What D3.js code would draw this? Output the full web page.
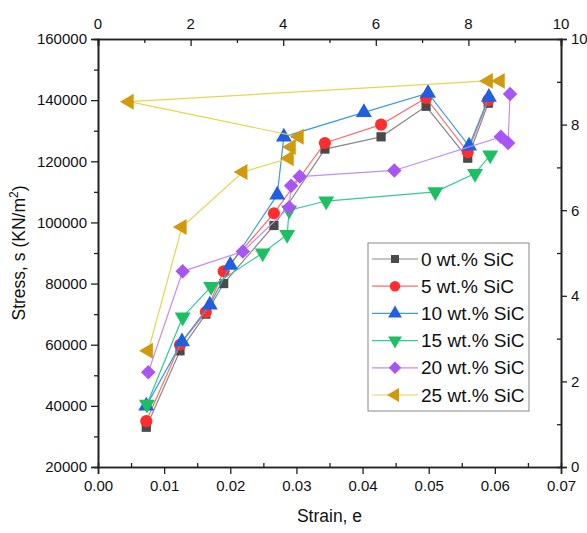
<!DOCTYPE html>
<html>
<head>
<meta charset="utf-8">
<script src="https://cdn.jsdelivr.net/npm/d3@7"></script>
<style>
  html, body { margin: 0; padding: 0; background: #fff; }
  svg { display: block; font-family: "Liberation Sans", Arial, sans-serif; }
</style>
</head>
<body>
<svg id="chart" width="587" height="533"></svg>
<script>
// ---- Data ----
const seriesNames = ["0 wt.% SiC", "5 wt.% SiC", "10 wt.% SiC", "15 wt.% SiC", "20 wt.% SiC", "25 wt.% SiC"];

const strain0  = [0.0073, 0.0124, 0.0163, 0.0190, 0.0266, 0.0343, 0.0428, 0.0496, 0.0559, 0.0590];
const stress0  = [33000, 58000, 70000, 80000, 99000, 124000, 128000, 138000, 121000, 139000];

const strain5  = [0.0073, 0.0124, 0.0163, 0.0190, 0.0266, 0.0343, 0.0428, 0.0496, 0.0559, 0.0590];
const stress5  = [35000, 60000, 70700, 84000, 103000, 126000, 132000, 140700, 123000, 140000];

const strain10 = [0.0073, 0.0127, 0.0169, 0.0200, 0.0271, 0.0281, 0.0402, 0.0499, 0.0561, 0.0591];
const stress10 = [40000, 61000, 73000, 86000, 109000, 128000, 136000, 142300, 125000, 141000];

const strain15 = [0.0074, 0.0128, 0.0171, 0.0249, 0.0286, 0.0289, 0.0345, 0.0510, 0.0570, 0.0593];
const stress15 = [40500, 69000, 79000, 90000, 96000, 104000, 107000, 110000, 116000, 122000];

const strain20 = [0.0076, 0.0128, 0.0219, 0.0289, 0.0292, 0.0305, 0.0448, 0.0609, 0.0620, 0.0623];
const stress20 = [51000, 84000, 90500, 105000, 112000, 115000, 117000, 128000, 126000, 142000];

const strain25 = [0.0076, 0.0127, 0.0219, 0.0289, 0.0292, 0.0304, 0.0047, 0.0590, 0.0608];
const stress25 = [58000, 98500, 116500, 121000, 124700, 128000, 139500, 146300, 146300];

const xTicks = [0.00, 0.01, 0.02, 0.03, 0.04, 0.05, 0.06, 0.07];
const yTicks = [20000, 40000, 60000, 80000, 100000, 120000, 140000, 160000];
const auxTicks = [0, 2, 4, 6, 8, 10];

// ---- Layout ----
const L = 98, R = 561, T = 39, B = 467;
const svg = d3.select("#chart");

const x = d3.scaleLinear().domain([0, 0.07]).range([L, R]);
const y = d3.scaleLinear().domain([20000, 160000]).range([B, T]);
const xTop = d3.scaleLinear().domain([0, 10]).range([L, R]);
const yRight = d3.scaleLinear().domain([0, 10]).range([B, T]);

const axisColor = "#222";
const tickFont = "15px";

function minorBetween(ticks, step) {
  const out = [];
  for (let i = 0; i < ticks.length - 1; i++) out.push(ticks[i] + step / 2);
  return out;
}

// Bottom axis: major outward, minor inward
const gB = svg.append("g").attr("transform", `translate(0,${B})`);
gB.call(d3.axisBottom(x).tickValues(xTicks).tickFormat(d3.format(".2f")).tickSize(7).tickPadding(6));
gB.append("g").call(d3.axisTop(x).tickValues(minorBetween(xTicks, 0.01)).tickSize(4).tickFormat(""));

// Left axis: all outward
const gL = svg.append("g").attr("transform", `translate(${L},0)`);
gL.call(d3.axisLeft(y).tickValues(yTicks).tickFormat(d3.format("d")).tickSize(7).tickPadding(4));
gL.append("g").call(d3.axisLeft(y).tickValues(minorBetween(yTicks, 20000)).tickSize(4).tickFormat(""));

// Top axis: all inward
const gT = svg.append("g").attr("transform", `translate(0,${T})`);
gT.call(d3.axisBottom(xTop).tickValues(auxTicks).tickSize(7).tickFormat(""));
gT.append("g").call(d3.axisBottom(xTop).tickValues([1,3,5,7,9]).tickSize(4).tickFormat(""));
gT.selectAll(".topLabel").data(auxTicks).enter().append("text")
  .attr("class", "topLabel")
  .attr("x", d => xTop(d)).attr("y", -10)
  .attr("text-anchor", "middle").attr("font-size", tickFont).attr("fill", "#111")
  .text(d => d);

// Right axis: major outward, minor inward
const gR = svg.append("g").attr("transform", `translate(${R},0)`);
gR.call(d3.axisRight(yRight).tickValues(auxTicks).tickSize(6).tickPadding(4));
gR.append("g").call(d3.axisLeft(yRight).tickValues([1,3,5,7,9]).tickSize(4).tickFormat(""));

svg.selectAll(".domain").attr("stroke", axisColor).attr("stroke-width", 1.6);
svg.selectAll(".tick line").attr("stroke", axisColor).attr("stroke-width", 1.3);
svg.selectAll(".tick text").attr("font-size", tickFont).attr("fill", "#111")
  .attr("font-family", '"Liberation Sans", Arial, sans-serif');

// Axis titles
svg.append("text").attr("x", (L + R) / 2).attr("y", 522)
  .attr("text-anchor", "middle").attr("font-size", "17.5px").attr("fill", "#111")
  .text("Strain, e");

const yt = svg.append("text")
  .attr("transform", `translate(25,${(T + B) / 2}) rotate(-90)`)
  .attr("text-anchor", "middle").attr("font-size", "17.5px").attr("fill", "#111");
yt.append("tspan").text("Stress, s (KN/m");
yt.append("tspan").attr("font-size", "12px").attr("dy", "-7").text("2");
yt.append("tspan").attr("dy", "7").text(")");

// ---- Series ----
const styles = [
  { line: "#8a8a8a", fill: "#4a4a4a", sym: d3.symbolSquare,   size: 85,  rot: 0 },
  { line: "#ff6b6b", fill: "#ff2d2d", sym: d3.symbolCircle,   size: 115, rot: 0 },
  { line: "#3b9ddc", fill: "#1f5fe0", sym: d3.symbolTriangle, size: 110, rot: 0 },
  { line: "#36c79b", fill: "#1cc063", sym: d3.symbolTriangle, size: 110, rot: 180 },
  { line: "#c68cf2", fill: "#a854f6", sym: d3.symbolSquare,   size: 105, rot: 45 },
  { line: "#e9d44c", fill: "#d09a0c", sym: d3.symbolTriangle, size: 110, rot: -90 }
];
const strains = [strain0, strain5, strain10, strain15, strain20, strain25];
const stresses = [stress0, stress5, stress10, stress15, stress20, stress25];

const plot = svg.append("g");
const line = d3.line().x(d => x(d[0])).y(d => y(d[1]));

seriesNames.forEach((name, i) => {
  const pts = strains[i].map((s, j) => [s, stresses[i][j]]);
  const st = styles[i];
  plot.append("path").datum(pts)
    .attr("d", line).attr("fill", "none")
    .attr("stroke", st.line).attr("stroke-width", 1.2);
  plot.selectAll(null).data(pts).enter().append("path")
    .attr("d", d3.symbol().type(st.sym).size(st.size))
    .attr("transform", d => `translate(${x(d[0])},${y(d[1])}) rotate(${st.rot})`)
    .attr("fill", st.fill);
});

// ---- Legend ----
const lg = svg.append("g");
lg.append("rect").attr("x", 368).attr("y", 243).attr("width", 161).attr("height", 168)
  .attr("fill", "#fff").attr("stroke", "#888").attr("stroke-width", 1);
seriesNames.forEach((name, i) => {
  const st = styles[i];
  const cy = 259 + i * 27.2;
  lg.append("line").attr("x1", 372).attr("x2", 418).attr("y1", cy).attr("y2", cy)
    .attr("stroke", st.line).attr("stroke-width", 1.2);
  lg.append("path")
    .attr("d", d3.symbol().type(st.sym).size(st.size * 0.75))
    .attr("transform", `translate(395,${cy}) rotate(${st.rot})`)
    .attr("fill", st.fill);
  lg.append("text").attr("x", 421).attr("y", cy + 6.5)
    .attr("font-size", "19px").attr("fill", "#111").text(name);
});
</script>
</body>
</html>
